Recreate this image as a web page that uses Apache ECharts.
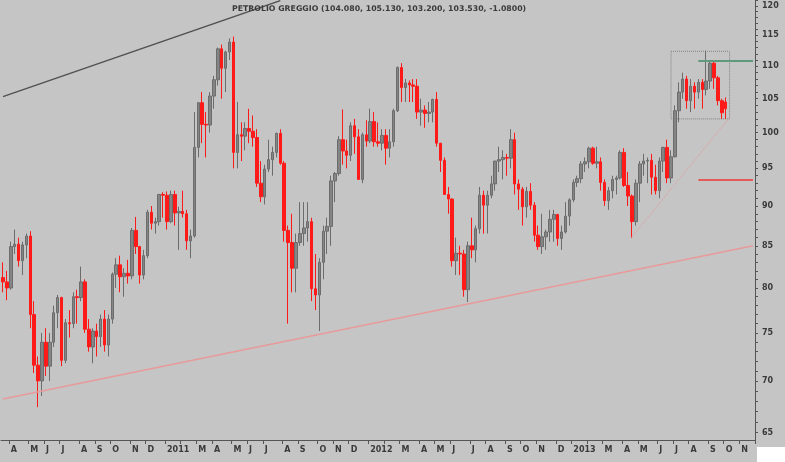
<!DOCTYPE html>
<html>
<head>
<meta charset="utf-8">
<script src="https://cdn.jsdelivr.net/npm/echarts@6/dist/echarts.min.js"></script>
<style>html,body{margin:0;padding:0;background:#c5c5c5;}#c{width:785px;height:462px;}</style>
</head>
<body>
<div id="c"></div>
<script>
// weekly candles: [open, high, low, close]
const ohlc2010 = [
[81.2,83.0,79.5,80.7],[80.7,82.0,78.6,80.0],[80.0,85.5,79.8,84.9],[84.9,87.0,84.0,85.2],[85.2,86.0,82.5,83.2],
[83.2,85.5,81.5,85.1],[85.1,86.5,83.5,86.2],[86.2,86.8,75.5,77.0],[77.0,78.5,70.8,71.6],[71.6,72.5,67.4,70.0],
[70.0,75.0,68.5,74.0],[74.0,75.5,70.5,71.5],[71.5,75.0,70.0,74.0],[74.0,78.0,73.5,77.2],[77.2,79.2,75.5,78.9],
[78.9,79.0,71.5,72.1],[72.1,76.5,71.8,76.1],[76.1,77.5,74.5,76.0],[76.0,79.5,75.5,79.0],[79.0,79.8,76.0,78.9],
[78.9,82.5,78.5,80.7],[80.7,81.0,75.0,75.4],[75.4,76.5,73.0,73.5],[73.5,75.5,71.8,75.2],[75.2,76.0,72.5,74.6],
[74.6,77.0,73.5,76.5],[76.5,77.5,73.0,73.7],[73.7,77.0,72.5,76.5],[76.5,81.8,76.0,81.6],[81.6,83.5,80.0,82.7],
[82.7,83.8,79.5,81.3],[81.3,82.3,79.0,81.7],[81.7,83.3,80.5,81.4],[81.4,87.2,81.0,86.9],[86.9,88.6,84.0,84.9],
[84.9,85.0,80.5,81.5],[81.5,84.5,81.0,83.8],[83.8,89.5,83.5,89.2],[89.2,90.0,87.0,87.8],[87.8,88.5,86.5,88.0],
[88.0,91.5,87.5,91.5],[91.5,91.8,88.5,91.4]
];
const ohlc2011 = [
[91.4,91.9,87.0,88.0],[88.0,92.0,87.8,91.5],[91.5,92.0,87.5,89.1],[89.1,89.9,84.5,89.3],[89.3,92.0,88.5,89.0],
[89.0,89.5,84.5,85.6],[85.6,87.0,83.5,86.2],[86.2,103.0,86.0,97.9],[97.9,104.5,96.5,104.4],[104.4,106.0,98.5,101.2],
[101.2,103.0,96.5,101.1],[101.1,106.0,100.0,105.4],[105.4,108.5,103.5,107.9],[107.9,113.0,107.0,112.8],[112.8,113.5,105.0,109.7],
[109.7,112.5,106.0,112.3],[112.3,114.5,111.0,113.9],[113.9,114.8,95.0,97.2],[97.2,104.5,95.0,99.7],[99.7,101.5,96.0,99.5],
[99.5,101.5,97.5,100.6],[100.6,103.5,98.5,100.2],[100.2,102.5,98.0,99.3],[99.3,100.5,92.5,93.0],[93.0,96.0,90.5,91.2],
[91.2,95.5,90.2,94.9],[94.9,99.0,94.5,96.2],[96.2,98.0,94.0,97.2],[97.2,100.0,96.5,99.9],[99.9,100.5,95.5,95.7],
[95.7,96.0,85.5,86.9],[86.9,87.5,76.0,85.4],[85.4,89.0,79.5,82.3],[82.3,86.5,79.5,85.4],[85.4,90.5,85.0,86.5],
[86.5,90.5,85.0,87.2],[87.2,90.5,85.5,88.0],[88.0,88.5,78.5,79.9],[79.9,84.0,77.5,79.2],[79.2,83.5,75.2,83.0],
[83.0,87.5,81.0,86.8],[86.8,88.5,84.0,87.4],[87.4,94.0,85.0,93.3],[93.3,94.5,90.5,94.3],[94.3,99.5,94.0,99.0],
[99.0,103.4,95.5,97.4],[97.4,99.0,95.0,96.8],[96.8,101.5,96.0,101.0],[101.0,102.0,97.0,99.4],[99.4,100.5,93.5,93.5],
[93.5,100.0,93.0,99.7],[99.7,101.8,98.0,98.8]
];
const ohlc2012 = [
[98.8,103.5,98.5,101.6],[101.6,103.0,98.0,98.7],[98.7,101.5,98.0,98.5],[98.5,100.5,97.5,99.6],[99.6,100.5,95.5,97.8],
[97.8,100.5,96.5,98.7],[98.7,103.5,98.0,103.2],[103.2,110.0,103.0,109.8],[109.8,110.5,104.5,106.7],[106.7,108.0,104.5,107.4],
[107.4,107.8,104.5,107.1],[107.1,108.0,104.5,106.9],[106.9,108.0,102.0,103.0],[103.0,105.0,101.0,103.3],[103.3,104.0,100.7,102.8],
[102.8,104.5,101.5,103.0],[103.0,105.0,101.5,104.9],[104.9,106.0,98.0,98.5],[98.5,98.5,94.5,96.1],[96.1,96.5,91.5,91.5],
[91.5,92.5,89.0,90.9],[90.9,91.0,82.5,83.2],[83.2,86.0,81.5,84.1],[84.1,85.0,81.5,84.0],[84.0,84.5,79.0,79.8],
[79.8,85.5,78.4,85.0],[85.0,88.5,83.5,84.5],[84.5,87.5,83.0,87.1],[87.1,92.5,86.5,91.4],[91.4,92.0,86.5,90.1],
[90.1,92.0,86.5,91.4],[91.4,94.0,91.0,92.9],[92.9,96.0,92.0,96.0],[96.0,98.0,94.5,96.2],[96.2,97.5,93.5,96.5],
[96.5,97.0,94.0,96.4],[96.4,100.5,95.0,99.0],[99.0,100.0,91.5,92.9],[92.9,93.5,89.5,92.2],[92.2,92.5,87.5,89.9],
[89.9,92.5,88.5,91.9],[91.9,93.0,89.5,90.1],[90.1,90.5,85.5,86.3],[86.3,87.5,84.5,84.9],[84.9,89.0,84.0,86.1],
[86.1,87.0,84.5,86.7],[86.7,89.5,85.5,88.3],[88.3,89.5,85.5,88.9],[88.9,89.0,85.0,85.9],[85.9,87.5,84.5,86.7],
[86.7,90.5,86.5,88.7],[88.7,91.0,87.5,90.8]
];
const ohlc2013 = [
[90.8,93.5,90.5,93.1],[93.1,94.0,92.5,93.6],[93.6,96.0,93.0,95.6],[95.6,96.5,94.5,95.9],[95.9,98.0,95.0,97.8],
[97.8,98.0,95.5,95.7],[95.7,98.0,95.0,95.9],[95.9,96.5,92.0,93.1],[93.1,93.5,90.0,90.7],[90.7,92.5,89.5,92.0],
[92.0,94.0,91.0,93.5],[93.5,94.0,91.5,93.7],[93.7,97.5,93.5,97.2],[97.2,97.8,92.5,92.7],[92.7,94.5,90.0,91.3],
[91.3,91.5,86.0,88.0],[88.0,93.5,87.5,93.0],[93.0,96.0,90.5,95.6],[95.6,97.0,94.0,96.0],[96.0,96.5,93.0,96.1],
[96.1,97.0,91.5,93.8],[93.8,95.5,91.5,92.0],[92.0,96.5,91.0,96.0],[96.0,98.0,94.5,97.9],[97.9,99.0,93.0,93.7],
[93.7,97.5,93.0,96.6],[96.6,104.0,96.5,103.2],[103.2,107.5,101.5,106.0],[106.0,109.0,105.0,108.0],[108.0,108.5,103.5,104.7],
[104.7,108.0,103.0,106.9],[106.9,107.5,103.5,106.0],[106.0,108.0,105.0,107.5],[107.5,108.0,103.5,106.4],[106.4,112.5,105.5,107.7],
[107.7,110.8,106.5,110.5],[110.5,110.8,106.5,108.2],[108.2,108.5,104.0,104.7],[104.7,105.0,102.0,102.9],[104.5,105.2,102.0,103.5]
];
const firstWeek = '2010-03-19';
const weekCount = 193;
const monthLetters = ['J','F','M','A','M','J','J','A','S','O','N','D'];
const priceLabels = [65,70,75,80,85,90,95,100,105,110,115,120];
const titleText = 'PETROLIO GREGGIO (104.080, 105.130, 103.200, 103.530, -1.0800)';

const weeks = [];
{
  const t0 = Date.parse(firstWeek + 'T00:00:00Z');
  for (let i = 0; i < weekCount; i++) {
    weeks.push(new Date(t0 + i * 7 * 86400000).toISOString().slice(0, 10));
  }
}
const allOhlc = ohlc2010.concat(ohlc2011, ohlc2012, ohlc2013);
const candleData = allOhlc.map(r => [r[0], r[3], r[2], r[1]]);

function isMonthStart(idx) {
  return Number(weeks[idx].slice(8, 10)) <= 7;
}
function isLabelWeek(idx) {
  // February is skipped: the year label takes its room
  return isMonthStart(idx) && weeks[idx].slice(5, 7) !== '02';
}
function monthLabel(v) {
  const m = Number(v.slice(5, 7)) - 1;
  return m === 0 ? v.slice(0, 4) : monthLetters[m];
}
const minorTicks = [];
for (let v = 65; v <= 121; v++) minorTicks.push(v);

const chart = echarts.init(document.getElementById('c'), null, {renderer: 'canvas'});
chart.setOption({
  animation: false,
  backgroundColor: '#c5c5c5',
  title: {
    text: titleText, left: 227, top: 0,
    textStyle: {fontSize: 7.8, fontWeight: 'bold', color: '#3a3a3a', fontFamily: 'DejaVu Sans'}
  },
  grid: {left: 1, right: 30, top: 0, bottom: 22},
  xAxis: {
    type: 'category', data: weeks, boundaryGap: true,
    axisLine: {lineStyle: {color: '#555', width: 1}},
    axisTick: {show: true, interval: (i) => isMonthStart(i), length: 4, lineStyle: {color: '#555'}},
    axisLabel: {
      interval: (i) => isLabelWeek(i), formatter: monthLabel, align: 'left',
      fontSize: 8, fontWeight: 'bold', color: '#3a3a3a', margin: 6, fontFamily: 'DejaVu Sans'
    },
    splitLine: {show: false}
  },
  yAxis: {
    type: 'log', logBase: 10, position: 'right', min: 64.3, max: 121,
    axisLine: {show: true, lineStyle: {color: '#555'}},
    axisTick: {show: true, customValues: minorTicks, length: 3, lineStyle: {color: '#555'}},
    axisLabel: {
      customValues: priceLabels, formatter: (v) => String(Math.round(v)),
      fontSize: 8, fontWeight: 'bold', color: '#3a3a3a', margin: 7, fontFamily: 'DejaVu Sans'
    },
    splitLine: {show: false}
  },
  series: [{
    type: 'candlestick',
    data: candleData,
    barWidth: 3,
    itemStyle: {color: '#858585', color0: '#ff1a1a', borderColor: '#6c6c6c', borderColor0: '#ff1a1a', borderWidth: 1},
    markLine: {
      silent: true, symbol: ['none', 'none'], label: {show: false},
      data: [
        [{coord: [-0.5, 105.3], lineStyle: {color: '#505050', width: 1.3, type: 'solid'}}, {coord: [71.2, 120.9]}],
        [{coord: [0, 68.2], lineStyle: {color: '#e89a9a', width: 1.5, type: 'solid'}}, {coord: [192, 85.0]}],
        [{coord: [160.5, 86.1], lineStyle: {color: '#e59a9a', width: 1, type: 'dotted'}}, {coord: [185.6, 102.2]}],
        [{coord: [177.9, 110.9], lineStyle: {color: '#5f9a7e', width: 2, type: 'solid'}}, {coord: [191.7, 110.9]}],
        [{coord: [177.9, 93.5], lineStyle: {color: '#e65a5a', width: 2, type: 'solid'}}, {coord: [191.7, 93.5]}]
      ]
    },
    markArea: {
      silent: true,
      itemStyle: {color: 'rgba(0,0,0,0)', borderColor: '#808080', borderWidth: 1, borderType: 'dotted'},
      data: [[{coord: [171.1, 112.4]}, {coord: [186.2, 102.0]}]]
    }
  }],
  graphic: [{type: 'rect', shape: {x: 757, y: 447, width: 28, height: 15}, style: {fill: '#ffffff'}, z: 100}]
});
</script>
</body>
</html>
